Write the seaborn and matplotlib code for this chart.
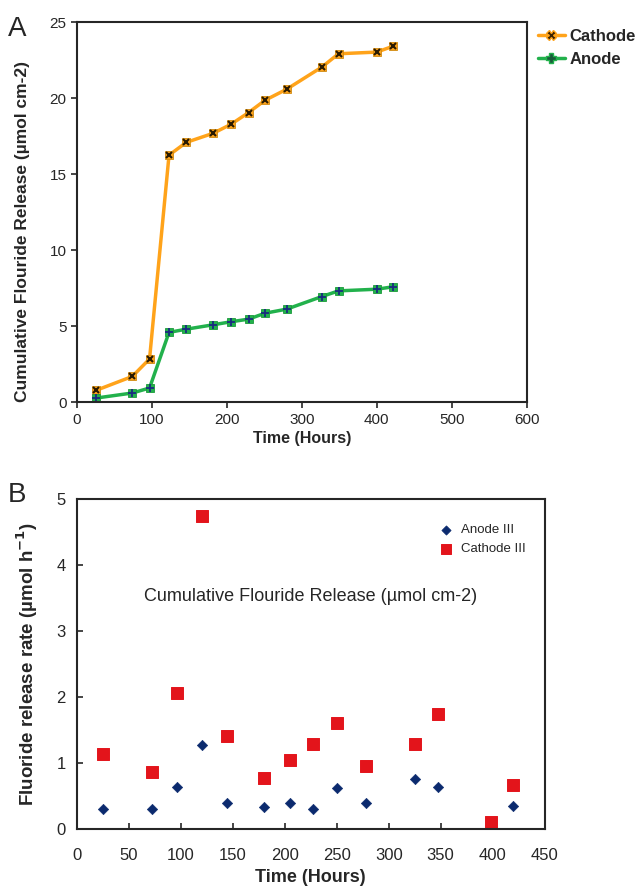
import pandas as pd
import seaborn as sns
import matplotlib.pyplot as plt

# Panel A: cumulative fluoride release
hours_a = [26, 74, 97, 123, 146, 182, 206, 229, 251, 280, 327, 349, 400, 422]
cathode_cum = [0.79, 1.7, 2.85, 16.26, 17.1, 17.7, 18.3, 19.06, 19.87, 20.6,
               22.06, 22.93, 23.04, 23.43]
anode_cum = [0.28, 0.61, 0.94, 4.6, 4.81, 5.1, 5.3, 5.47, 5.86, 6.13,
             6.96, 7.33, 7.44, 7.6]

# Panel B: release rate
hours_cat_b = [25, 72, 96, 120, 144, 180, 205, 227, 250, 278, 325, 347, 398, 420]
cathode_rate = [1.14, 0.86, 2.06, 4.74, 1.41, 0.78, 1.04, 1.29, 1.60, 0.96,
                1.29, 1.74, 0.11, 0.67]
hours_an_b = [25, 72, 96, 120, 144, 180, 205, 227, 250, 278, 325, 347, 420]
anode_rate = [0.31, 0.30, 0.64, 1.28, 0.39, 0.33, 0.39, 0.31, 0.62, 0.40,
              0.76, 0.63, 0.35]

sns.set_style('ticks')
plt.rcParams['font.family'] = ['Liberation Sans', 'DejaVu Sans']

orange = '#FFA31A'
green = '#22B14C'

dfA = pd.DataFrame({
    'Time': hours_a + hours_a,
    'Release': cathode_cum + anode_cum,
    'Electrode': ['Cathode'] * len(hours_a) + ['Anode'] * len(hours_a),
})

fig = plt.figure(figsize=(6.4, 8.92), dpi=100)
ax1 = fig.add_axes([0.120, 0.549, 0.703, 0.426])
ax2 = fig.add_axes([0.120, 0.0706, 0.731, 0.370])

# Top panel
sns.lineplot(data=dfA, x='Time', y='Release', hue='Electrode',
             palette={'Cathode': orange, 'Anode': green}, lw=2.5,
             legend=False, ax=ax1)
ax1.plot(hours_a, cathode_cum, ls='none', marker='s', ms=6, mfc=orange,
         mec='#D08a10', mew=0.6)
ax1.plot(hours_a, cathode_cum, ls='none', marker='x', ms=4.5, mec='#2a1a00', mew=1.5)
ax1.plot(hours_a, anode_cum, ls='none', marker='s', ms=5.5, mfc=green,
         mec='#1a9a3a', mew=0.6)
ax1.plot(hours_a, anode_cum, ls='none', marker='+', ms=5.5, mec='#1a2a80', mew=1.3)

ax1.set_xlim(0, 600)
ax1.set_ylim(0, 25)
ax1.set_xticks(range(0, 601, 100))
ax1.set_yticks(range(0, 26, 5))
ax1.set_xlabel('Time (Hours)', fontsize=11.5, fontweight='bold', labelpad=3)
ax1.set_ylabel('Cumulative Flouride Release (µmol cm-2)', fontsize=12.5,
               fontweight='bold')
ax1.yaxis.set_label_coords(-0.105, 0.45)
ax1.tick_params(labelsize=11, direction='out', length=4, width=1.2)
for s in ax1.spines.values():
    s.set_linewidth(1.5)
    s.set_visible(True)

# legend outside on the right
handles = [
    plt.Line2D([], [], color=orange, lw=2.5, marker='X', ms=7, mfc='#3a2000',
               mec=orange),
    plt.Line2D([], [], color=green, lw=2.5, marker='P', ms=7, mfc='#1a5a3a',
               mec=green),
]
ax1.legend(handles, ['Cathode', 'Anode'], loc='upper left',
           bbox_to_anchor=(1.01, 1.0), frameon=False, handlelength=1.6,
           handletextpad=0.3, prop={'size': 12, 'weight': 'bold'},
           labelspacing=0.5, borderaxespad=0)

# Bottom panel
dfC = pd.DataFrame({'Time': hours_cat_b, 'Rate': cathode_rate})
dfN = pd.DataFrame({'Time': hours_an_b, 'Rate': anode_rate})
sns.scatterplot(data=dfN, x='Time', y='Rate', marker='D', s=28,
                color='#0B2A6E', edgecolor='#0B2A6E', label='Anode III', ax=ax2)
sns.scatterplot(data=dfC, x='Time', y='Rate', marker='s', s=75,
                color='#E3141B', edgecolor='#E3141B', label='Cathode III', ax=ax2)

ax2.set_xlim(0, 450)
ax2.set_ylim(0, 5)
ax2.set_xticks(range(0, 451, 50))
ax2.set_yticks(range(0, 6, 1))
ax2.set_xlabel('Time (Hours)', fontsize=13, fontweight='bold', labelpad=4)
ax2.set_ylabel('Fluoride release rate (µmol h$^{\\mathbf{-1}}$)', fontsize=13.5,
               fontweight='bold', labelpad=12)
ax2.tick_params(labelsize=12, direction='in', length=4, width=1.2)
ax2.tick_params(axis='x', pad=14)
ax2.tick_params(axis='y', pad=8)
for s in ax2.spines.values():
    s.set_linewidth(1.5)
    s.set_visible(True)
ax2.text(0.5, 0.705, 'Cumulative Flouride Release (µmol cm-2)',
         transform=ax2.transAxes, ha='center', va='center', fontsize=13)
ax2.legend(loc='upper right', bbox_to_anchor=(0.985, 0.96), frameon=False,
           fontsize=9.5, handletextpad=0.1, labelspacing=0.5, markerscale=0.9)

fig.text(0.012, 0.968, 'A', fontsize=20, va='center')
fig.text(0.012, 0.445, 'B', fontsize=20, va='center')

fig.savefig('out.png', dpi=100)
